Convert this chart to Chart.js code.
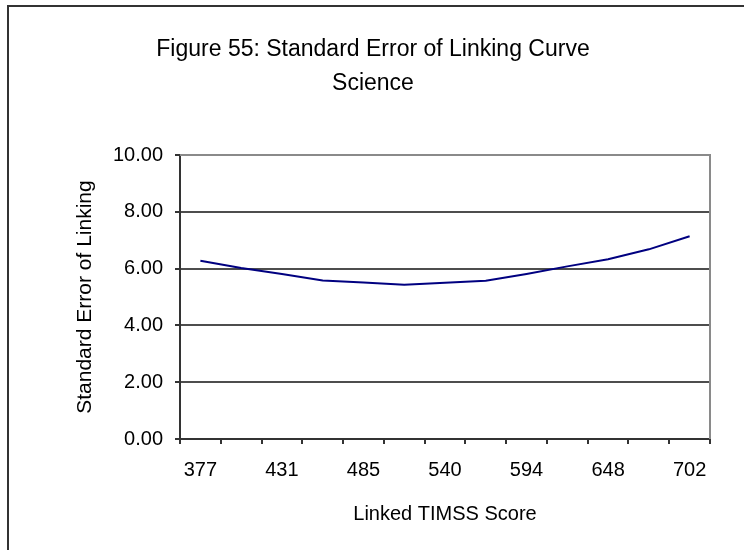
<!DOCTYPE html>
<html>
<head>
<meta charset="utf-8">
<script src="https://cdn.jsdelivr.net/npm/chart.js@4.4.0/dist/chart.umd.min.js"></script>
<style>
  html, body { margin: 0; padding: 0; background: #fff; }
  #wrap { width: 744px; height: 550px; overflow: hidden; }
</style>
</head>
<body>
<div id="wrap"><canvas id="linkingChart" width="744" height="550"></canvas></div>
<script>
// Linked TIMSS scores (categories) and standard error at each score
const scores = [377, 404, 431, 458, 485, 512, 540, 567, 594, 621, 648, 675, 702];
const stdError = [6.28, 6.02, 5.81, 5.58, 5.51, 5.43, 5.50, 5.57, 5.81, 6.08, 6.33, 6.68, 7.14];
const yTicks = [0, 2, 4, 6, 8, 10];

const FONT = "'Liberation Sans', Arial, sans-serif";

// outer frame (left + top edges only) and grey plot-area border
const framePlugin = {
    id: 'frame',
    beforeDraw(chart) {
        const c = chart.ctx;
        c.save();
        c.fillStyle = '#fff';
        c.fillRect(0, 0, chart.width, chart.height);
        c.strokeStyle = '#333';
        c.lineWidth = 2;
        c.beginPath();
        c.moveTo(8, chart.height);
        c.lineTo(8, 6);
        c.lineTo(chart.width, 6);
        c.stroke();
        c.restore();
    },
    afterDatasetsDraw(chart) {
        const a = chart.chartArea;
        const c = chart.ctx;
        c.save();
        c.strokeStyle = '#8a8a8a';
        c.lineWidth = 2;
        c.beginPath();
        c.moveTo(a.left, a.top);
        c.lineTo(a.right, a.top);
        c.lineTo(a.right, a.bottom);
        c.stroke();
        c.restore();
    }
};

const ctx = document.getElementById('linkingChart').getContext('2d');
const chart = new Chart(ctx, {
    type: 'line',
    data: {
        labels: scores,
        datasets: [{
            data: stdError,
            borderColor: '#000080',
            borderWidth: 2,
            pointRadius: 0,
            tension: 0,
            fill: false
        }]
    },
    options: {
        responsive: false,
        animation: false,
        layout: { padding: { left: 2, right: 0, top: 0, bottom: 20 } },
        plugins: {
            legend: { display: false },
            tooltip: { enabled: false },
            title: {
                display: true,
                text: ['Figure 55: Standard Error of Linking Curve', 'Science'],
                color: '#000',
                font: { family: FONT, size: 23, weight: 'normal', lineHeight: 1.48 },
                padding: { top: 33, bottom: 54 }
            }
        },
        scales: {
            x: {
                offset: true,
                afterFit(scale) { scale.height = 91; },
                grid: {
                    offset: true,
                    drawOnChartArea: false,
                    tickLength: 5,
                    tickColor: '#333',
                    lineWidth: 2
                },
                border: { color: '#333', width: 2 },
                ticks: {
                    autoSkip: false,
                    maxRotation: 0,
                    padding: 14,
                    color: '#000',
                    font: { family: FONT, size: 20 },
                    callback(value, index) {
                        return index % 2 === 0 ? String(scores[index]) : '';
                    }
                },
                title: {
                    display: true,
                    text: 'Linked TIMSS Score',
                    color: '#000',
                    font: { family: FONT, size: 20 },
                    padding: { top: 0, bottom: 4 }
                }
            },
            y: {
                min: 0,
                max: 10,
                afterFit(scale) { scale.width = 178; },
                afterBuildTicks(scale) {
                    scale.ticks = yTicks.map(v => ({ value: v }));
                },
                grid: {
                    color: ctx => ctx.tick.value === 0 ? 'rgba(0,0,0,0)' : '#4d4d4d',
                    lineWidth: 2,
                    tickLength: 5,
                    tickColor: '#333'
                },
                border: { color: '#333', width: 2 },
                ticks: {
                    padding: 12,
                    color: '#000',
                    font: { family: FONT, size: 20 },
                    callback: v => v.toFixed(2)
                },
                title: {
                    display: true,
                    text: 'Standard Error of Linking',
                    color: '#000',
                    font: { family: FONT, size: 21 },
                    padding: { top: 71, bottom: 0 }
                }
            },
            // empty strip on the right that keeps the plot off the frame edge
            yRight: {
                position: 'right',
                min: 0,
                max: 10,
                afterFit(scale) { scale.width = 34; },
                grid: { display: false, drawOnChartArea: false },
                border: { display: false },
                ticks: { display: false }
            }
        }
    },
    plugins: [framePlugin]
});
</script>
</body>
</html>
